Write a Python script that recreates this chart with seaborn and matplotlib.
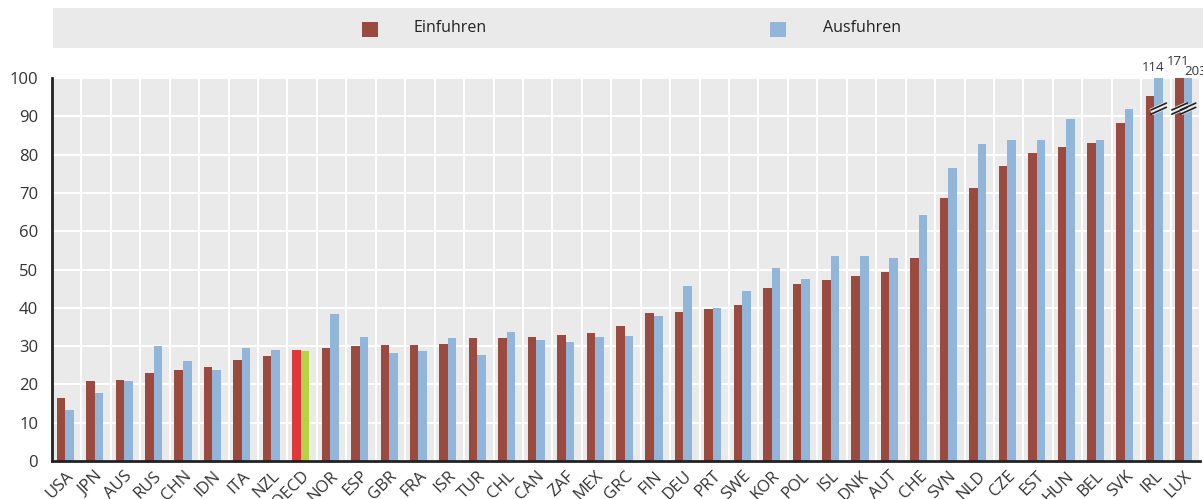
import matplotlib
matplotlib.use("Agg")
import matplotlib.pyplot as plt
import matplotlib.patches as mpatches
import seaborn as sns
import pandas as pd
import numpy as np

countries = ["USA", "JPN", "AUS", "RUS", "CHN", "IDN", "ITA", "NZL", "OECD", "NOR",
             "ESP", "GBR", "FRA", "ISR", "TUR", "CHL", "CAN", "ZAF", "MEX", "GRC",
             "FIN", "DEU", "PRT", "SWE", "KOR", "POL", "ISL", "DNK", "AUT", "CHE",
             "SVN", "NLD", "CZE", "EST", "HUN", "BEL", "SVK", "IRL", "LUX"]
imports = [16.5, 20.8, 21.2, 22.9, 23.7, 24.5, 26.5, 27.3, 29.0, 29.5,
           30.1, 30.2, 30.4, 30.5, 32.0, 32.0, 32.4, 32.9, 33.4, 35.2,
           38.6, 39.0, 39.7, 40.8, 45.2, 46.2, 47.3, 48.3, 49.3, 52.9,
           68.7, 71.4, 77.0, 80.5, 82.0, 83.1, 88.2, 95.3, 171]
exports = [13.4, 17.7, 20.8, 30.0, 26.2, 23.7, 29.5, 29.1, 28.8, 38.3,
           32.5, 28.3, 28.6, 32.2, 27.7, 33.6, 31.5, 31.1, 32.5, 32.6,
           37.8, 45.6, 40.0, 44.4, 50.5, 47.4, 53.6, 53.6, 53.1, 64.3,
           76.4, 82.8, 83.9, 83.9, 89.2, 83.9, 91.8, 114, 203]
series_names = ["Einfuhren", "Ausfuhren"]
y_ticks = list(range(0, 101, 10))

RED = "#9B4A40"
BLUE = "#92B6D9"
OECD_RED = "#E0383A"
OECD_GREEN = "#B5D445"
BG = "#EAEAEA"
DARK = "#222222"

df = pd.DataFrame({
    "country": countries * 2,
    "value": imports + exports,
    "series": [series_names[0]] * len(countries) + [series_names[1]] * len(countries),
})

sns.set_style("white")
plt.rcParams["font.family"] = ["Open Sans", "DejaVu Sans"]

fig = plt.figure(figsize=(12.03, 4.99), dpi=100)
ax = fig.add_axes([52 / 1203, 38 / 499, 1148 / 1203, 383 / 499])
ax.set_facecolor(BG)

sns.barplot(data=df, x="country", y="value", hue="series", order=countries,
            hue_order=series_names, palette=[RED, BLUE], width=0.58,
            linewidth=0, saturation=1, ax=ax, legend=False)

oecd_i = countries.index("OECD")
ax.containers[0].patches[oecd_i].set_facecolor(OECD_RED)
ax.containers[1].patches[oecd_i].set_facecolor(OECD_GREEN)

n = len(countries)
ax.set_xlim(-0.45, n - 0.45)
ax.set_ylim(0, 100)
ax.set_yticks(y_ticks)
ax.set_xticks(range(n))
ax.set_xticklabels(countries, rotation=45, ha="right", rotation_mode="anchor",
                   fontsize=12, color="#333333")
ax.set_xticks(np.arange(-0.45, n, 1.0), minor=True)
ax.tick_params(axis="x", which="major", length=0, pad=5)
ax.tick_params(axis="x", which="minor", length=4, width=1.5, direction="in", color=DARK)
ax.tick_params(axis="y", length=4, width=1.5, direction="in", color=DARK,
               labelsize=12, labelcolor="#333333", pad=10)
ax.set_xlabel("")
ax.set_ylabel("")

ax.grid(False)
ax.yaxis.grid(True, color="white", linewidth=1.5)
ax.xaxis.grid(True, which="minor", color="white", linewidth=1.5)
ax.set_axisbelow(True)

for side in ["top", "right"]:
    ax.spines[side].set_visible(False)
for side in ["left", "bottom"]:
    ax.spines[side].set_color(DARK)
    ax.spines[side].set_linewidth(2)

# Break marks and value labels for bars exceeding the axis
for si, vals in enumerate([imports, exports]):
    for i, v in enumerate(vals):
        if v > 100:
            p = ax.containers[si].patches[i]
            xc = p.get_x() + p.get_width() / 2
            w = p.get_width()
            yb = 92
            ax.plot([xc - w * 0.9, xc + w * 0.9], [yb - 0.9, yb + 0.9],
                    color=BG, linewidth=5, solid_capstyle="butt", zorder=5)
            for d in (-0.55, 0.55):
                ax.plot([xc - w * 0.9, xc + w * 0.9], [yb - 0.9 + d, yb + 0.9 + d],
                        color=DARK, linewidth=1.2, zorder=6)
            if si == 0:
                tx, ty, ha = xc - 0.05, 104.2, "center"
            elif countries[i] == "IRL":
                tx, ty, ha = xc - 0.2, 102.7, "center"
            else:
                tx, ty, ha = xc - 0.13, 101.6, "left"
            ax.text(tx, ty, f"{v:g}", ha=ha, va="center",
                    fontsize=9.5, color="#333333", clip_on=False)

# Legend band
fig.patches.append(mpatches.Rectangle((53 / 1203, 1 - 48 / 499), 1150 / 1203, 40 / 499,
                                      transform=fig.transFigure, facecolor=BG,
                                      edgecolor="none", zorder=0))
for xs, xt, col, name in [(362, 413, RED, series_names[0]), (770, 823, BLUE, series_names[1])]:
    fig.patches.append(mpatches.Rectangle((xs / 1203, 1 - 37 / 499), 16 / 1203, 15 / 499,
                                          transform=fig.transFigure, facecolor=col,
                                          edgecolor="none", zorder=1))
    fig.text(xt / 1203, 1 - 28 / 499, name, ha="left", va="center", fontsize=11.5,
             color="#222222")

fig.savefig("out.png", dpi=100)
